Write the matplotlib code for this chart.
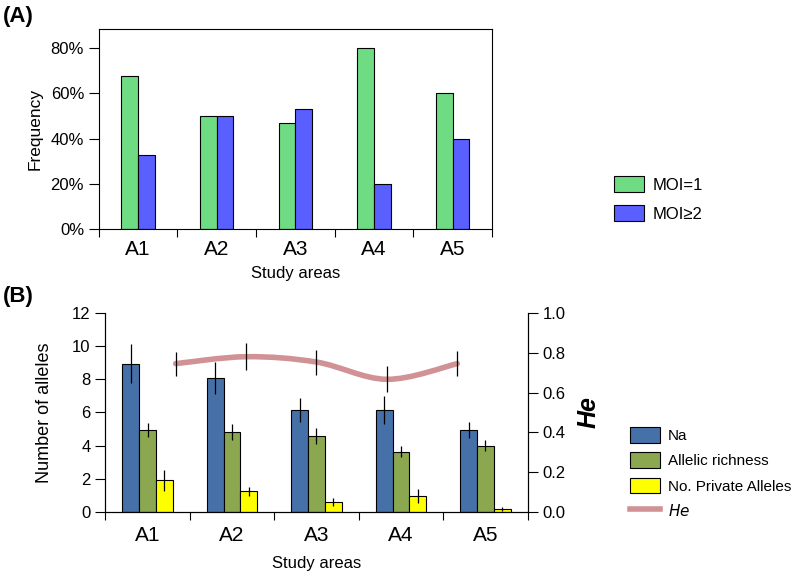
import matplotlib.pyplot as plt
import numpy as np
from matplotlib.path import Path
from matplotlib.patches import PathPatch, Patch
from matplotlib.lines import Line2D
from matplotlib.ticker import FuncFormatter

plt.rcParams['font.family'] = ['Liberation Sans', 'DejaVu Sans']

areas = ['A1', 'A2', 'A3', 'A4', 'A5']

# panel A: frequency (%)
moi1 = [67.7, 50.0, 47.0, 80.0, 60.0]
moi2 = [32.6, 50.0, 53.2, 20.0, 39.8]

# panel B: number of alleles
na = [8.95, 8.08, 6.15, 6.15, 4.94]
na_err = [1.17, 0.98, 0.72, 0.84, 0.48]
ar = [4.92, 4.80, 4.58, 3.63, 3.99]
ar_err = [0.42, 0.48, 0.47, 0.34, 0.33]
pa = [1.90, 1.23, 0.57, 0.95, 0.16]
pa_err = [0.62, 0.28, 0.24, 0.42, 0.12]
he = [0.746, 0.781, 0.754, 0.667, 0.746]
he_err = [0.060, 0.067, 0.063, 0.066, 0.062]

c_green = '#6FDC84'
c_blue = '#5A5FFF'
c_na = '#4670A8'
c_ar = '#8BA74F'
c_pa = '#FFFF00'
c_he = '#D09294'

fig = plt.figure(figsize=(7.94, 5.76), dpi=100)

# ---------- (A) ----------
axA = fig.add_axes([0.1243, 0.6024, 0.4953, 0.3478])
x = np.arange(len(areas))
w = 0.212
axA.bar(x - w/2, moi1, w, color=c_green, edgecolor='black', linewidth=0.8, label='MOI=1')
axA.bar(x + w/2, moi2, w, color=c_blue, edgecolor='black', linewidth=0.8, label='MOI\u22652')
axA.set_xlim(-0.5, 4.5)
axA.set_ylim(0, 88.6)
axA.set_yticks([0, 20, 40, 60, 80])
axA.yaxis.set_major_formatter(FuncFormatter(lambda v, p: '%d%%' % v))
axA.set_xticks(np.arange(-0.5, 5, 1))
axA.set_xticklabels([])
axA.set_xticks(x, minor=True)
axA.set_xticklabels(areas, minor=True, fontsize=15)
axA.tick_params(axis='x', which='minor', length=0, pad=8)
axA.tick_params(axis='x', which='major', direction='out', length=6)
axA.tick_params(axis='y', direction='out', length=7, labelsize=12)
axA.set_xlabel('Study areas', fontsize=12, labelpad=5)
axA.set_ylabel('Frequency', fontsize=12.5, labelpad=6)
for s in axA.spines.values():
    s.set_linewidth(0.8)
axA.legend(loc='upper left', bbox_to_anchor=(0.755, 0.72), bbox_transform=fig.transFigure,
           frameon=False, fontsize=12, handlelength=1.8, handleheight=1.1,
           labelspacing=0.75, handletextpad=0.5)

# ---------- (B) ----------
axB = fig.add_axes([0.1326, 0.1116, 0.532, 0.3446])
wb = 0.2
err_kw = dict(ecolor='black', elinewidth=0.9, capsize=0)
axB.bar(x - wb, na, wb, yerr=na_err, color=c_na, edgecolor='black', linewidth=0.8, error_kw=err_kw)
axB.bar(x, ar, wb, yerr=ar_err, color=c_ar, edgecolor='black', linewidth=0.8, error_kw=err_kw)
axB.bar(x + wb, pa, wb, yerr=pa_err, color=c_pa, edgecolor='black', linewidth=0.8, error_kw=err_kw)
axB.set_xlim(-0.5, 4.5)
axB.set_ylim(0, 12)
axB.set_yticks(range(0, 13, 2))
axB.set_xticks(np.arange(-0.5, 5, 1))
axB.set_xticklabels([])
axB.set_xticks(x, minor=True)
axB.set_xticklabels(areas, minor=True, fontsize=15)
axB.tick_params(axis='x', which='minor', length=0, pad=10)
axB.tick_params(axis='x', which='major', direction='out', length=6)
axB.tick_params(axis='y', direction='out', length=7, labelsize=12)
axB.set_xlabel('Study areas', fontsize=12, labelpad=8)
axB.set_ylabel('Number of alleles', fontsize=13, labelpad=14)
axB.spines['top'].set_visible(False)

# He on its own axes (right scale, shifted category positions)
axH = axB.twinx()
axH.set_ylim(0, 1.0)
axH.set_yticks(np.arange(0, 1.01, 0.2))
axH.yaxis.set_major_formatter(FuncFormatter(lambda v, p: '%.1f' % v))
axH.tick_params(axis='y', direction='out', length=7, labelsize=12)
axH.spines['top'].set_visible(False)
axH.set_ylabel('He', fontsize=18, fontweight='bold', style='italic', labelpad=8)
axH2 = axH.twiny()
axH2.set_xlim(-1, 5)
axH2.set_ylim(0, 1.0)
axH2.axis('off')
hx = np.arange(len(he))
# smooth curve through the points (Catmull-Rom -> cubic Bezier)
pts = np.column_stack([hx, he])
ext = np.vstack([pts[0], pts, pts[-1]])
verts = [tuple(pts[0])]
codes = [Path.MOVETO]
for i in range(1, len(ext) - 2):
    p0, p1, p2, p3 = ext[i - 1], ext[i], ext[i + 1], ext[i + 2]
    verts += [tuple(p1 + (p2 - p0) / 6), tuple(p2 - (p3 - p1) / 6), tuple(p2)]
    codes += [Path.CURVE4] * 3
axH2.add_patch(PathPatch(Path(verts, codes), facecolor='none', edgecolor=c_he, linewidth=4,
                         capstyle='round'))
axH2.errorbar(hx, he, yerr=he_err, fmt='none', ecolor='black', elinewidth=0.9, capsize=0)

handles = [Patch(facecolor=c_na, edgecolor='black', linewidth=0.8),
           Patch(facecolor=c_ar, edgecolor='black', linewidth=0.8),
           Patch(facecolor=c_pa, edgecolor='black', linewidth=0.8),
           Line2D([], [], color=c_he, linewidth=4)]
labels = ['Na', 'Allelic richness', 'No. Private Alleles', '$\\it{He}$']
axH2.legend(handles, labels, loc='upper left', bbox_to_anchor=(0.776, 0.282),
            bbox_transform=fig.transFigure, frameon=False, fontsize=11,
            handlelength=2.0, handleheight=1.2, labelspacing=0.6, handletextpad=0.5)

fig.text(0.003, 0.972, '(A)', fontsize=16, fontweight='bold', va='center')
fig.text(0.003, 0.485, '(B)', fontsize=16, fontweight='bold', va='center')

fig.savefig('out.png', dpi=100)
